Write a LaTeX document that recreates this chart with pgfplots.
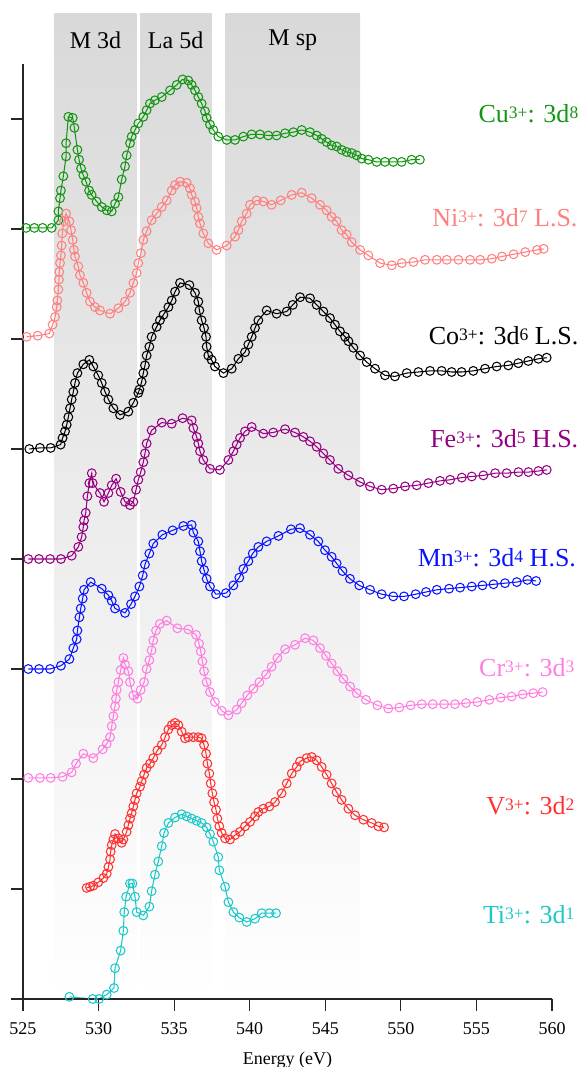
\documentclass[border=0pt]{standalone}
\usepackage{fontspec}
\setmainfont{Liberation Serif}
\usepackage{pgfplots}
\pgfplotsset{compat=1.18}
\definecolor{cuC}{RGB}{20,150,20}
\definecolor{niC}{RGB}{255,128,128}
\definecolor{coC}{RGB}{0,0,0}
\definecolor{feC}{RGB}{150,0,130}
\definecolor{mnC}{RGB}{10,20,255}
\definecolor{crC}{RGB}{255,125,225}
\definecolor{vC}{RGB}{255,50,50}
\definecolor{tiC}{RGB}{30,200,200}
\newcommand{\su}[1]{\raisebox{4pt}{\fontsize{17.5}{20}\selectfont #1}}
\begin{document}
\begin{tikzpicture}
\useasboundingbox (-23pt,-68pt) rectangle (558pt,999pt);
\begin{axis}[at={(0pt,0pt)}, anchor=south west,
  scale only axis, width=529pt, height=935pt,
  xmin=525, xmax=560, ymin=0, ymax=8.5, clip=false, axis on top,
  axis x line*=bottom, axis y line*=left,
  axis line style={line width=1.2pt, black!85, -},
  xtick={525,530,...,560}, ytick={0,1,...,8}, yticklabels={},
  tick align=outside, major tick length=12pt,
  tick style={line width=1.2pt, black!85},
  xticklabel style={font=\fontsize{18}{20}\selectfont, yshift=-8pt},
  /pgf/number format/assume math mode=true,
  /pgf/number format/1000 sep={},
  xlabel={Energy (eV)},
  xlabel style={font=\fontsize{18}{20}\selectfont, at={(axis description cs:0.5,0)}, anchor=center, yshift=-61pt},
  every axis plot/.append style={mark=o, mark size=4.4pt, line width=1.05pt, mark options={solid}}]

\fill[top color=black!15, bottom color=white] (axis cs:527.1,0) rectangle (axis cs:532.5,8.96);
\fill[top color=black!15, bottom color=white] (axis cs:532.75,0) rectangle (axis cs:537.5,8.96);
\fill[top color=black!15, bottom color=white] (axis cs:538.4,0) rectangle (axis cs:547.3,8.96);
\node[font=\fontsize{24}{28}\selectfont, inner sep=0pt] at (axis cs:529.8,8.72) {M 3d};
\node[font=\fontsize{24}{28}\selectfont, inner sep=0pt] at (axis cs:535.1,8.72) {La 5d};
\node[font=\fontsize{24}{28}\selectfont, inner sep=0pt] at (axis cs:542.85,8.72) {M sp};

% Cu
\addplot[color=cuC] coordinates {
(525.20,7.01) (525.75,7.01) (526.30,7.01) (526.90,7.01) (527.34,7.08) (527.34,7.16)
(527.45,7.28) (527.51,7.35) (527.67,7.48) (527.85,7.66) (527.85,7.78) (528.00,8.02)
(528.29,8.01) (528.40,7.92) (528.60,7.72) (528.71,7.63) (528.84,7.55) (528.99,7.49)
(529.17,7.43) (529.37,7.35) (529.54,7.31) (529.87,7.25) (530.21,7.20) (530.54,7.17)
(530.87,7.16) (531.09,7.23) (531.31,7.29) (531.53,7.45) (531.75,7.57) (531.86,7.67)
(532.08,7.78) (532.19,7.84) (532.41,7.90) (532.63,7.96) (532.96,8.02) (533.18,8.08)
(533.40,8.14) (533.73,8.17) (534.18,8.20) (534.73,8.26) (535.17,8.31) (535.56,8.36)
(535.94,8.35) (536.16,8.31) (536.38,8.26) (536.60,8.20) (536.82,8.14) (537.04,8.07)
(537.15,8.01) (537.37,7.95) (537.59,7.90) (537.92,7.84) (538.48,7.81) (539.03,7.81)
(539.58,7.84) (540.13,7.86) (540.68,7.86) (541.23,7.85) (541.78,7.85) (542.34,7.87)
(542.89,7.88) (543.44,7.90) (543.99,7.88) (544.43,7.85) (544.76,7.82) (545.09,7.79)
(545.42,7.76) (545.75,7.75) (546.08,7.72) (546.41,7.70) (546.75,7.69) (547.08,7.67)
(547.41,7.64) (547.85,7.63) (548.40,7.61) (548.95,7.61) (549.50,7.61) (550.05,7.61)
(550.71,7.63) (551.26,7.63)
};
% Ni
\addplot[color=niC] coordinates {
(525.24,6.02) (525.97,6.03) (526.74,6.05) (526.96,6.13) (527.12,6.20) (527.23,6.29)
(527.27,6.35) (527.34,6.45) (527.38,6.54) (527.40,6.61) (527.45,6.69) (527.51,6.76)
(527.56,6.85) (527.60,6.96) (527.71,7.07) (527.85,7.14) (528.07,7.07) (528.18,6.99)
(528.29,6.90) (528.37,6.81) (528.44,6.75) (528.66,6.66) (528.77,6.58) (528.99,6.51)
(529.21,6.42) (529.43,6.34) (529.76,6.29) (530.09,6.26) (530.76,6.23) (531.31,6.28)
(531.75,6.34) (532.08,6.42) (532.30,6.51) (532.52,6.60) (532.63,6.69) (532.80,6.78)
(532.96,6.90) (533.18,6.98) (533.51,7.08) (533.84,7.14) (534.18,7.20) (534.51,7.26)
(534.84,7.35) (535.06,7.40) (535.39,7.43) (535.83,7.42) (536.05,7.37) (536.16,7.31)
(536.38,7.25) (536.49,7.19) (536.60,7.11) (536.71,7.05) (536.93,6.96) (537.26,6.87)
(537.81,6.81) (538.48,6.85) (539.03,6.93) (539.25,6.99) (539.47,7.07) (539.80,7.14)
(540.02,7.22) (540.46,7.26) (540.90,7.25) (541.45,7.22) (542.05,7.26) (542.78,7.31)
(543.44,7.33) (544.10,7.28) (544.65,7.22) (545.09,7.17) (545.42,7.11) (545.75,7.07)
(546.08,6.99) (546.41,6.95) (546.75,6.88) (547.30,6.81) (547.85,6.76) (548.63,6.69)
(549.40,6.67) (550.06,6.69) (550.83,6.70) (551.60,6.72) (552.38,6.72) (553.04,6.72)
(553.81,6.72) (554.58,6.72) (555.25,6.72) (556.02,6.73) (556.69,6.75) (557.46,6.77)
(558.23,6.79) (559.01,6.81) (559.45,6.82)
};
% Co
\addplot[color=coC] coordinates {
(525.42,5.00) (526.12,5.01) (526.83,5.01) (527.49,5.04) (527.62,5.10) (527.78,5.16)
(527.89,5.22) (528.00,5.29) (528.11,5.37) (528.22,5.45) (528.33,5.52) (528.44,5.60)
(528.60,5.69) (528.99,5.77) (529.39,5.81) (529.65,5.75) (529.98,5.67) (530.21,5.60)
(530.43,5.52) (530.65,5.45) (530.98,5.37) (531.42,5.31) (531.97,5.34) (532.30,5.42)
(532.63,5.51) (532.70,5.54) (532.85,5.61) (532.96,5.69) (533.07,5.76) (533.18,5.85)
(533.36,5.93) (533.51,6.02) (533.84,6.11) (534.06,6.17) (534.29,6.22) (534.62,6.29)
(534.84,6.35) (535.06,6.43) (535.39,6.51) (536.01,6.49) (536.38,6.42) (536.60,6.34)
(536.67,6.26) (536.82,6.17) (536.98,6.10) (537.11,6.02) (537.15,5.93) (537.26,5.85)
(537.48,5.81) (537.70,5.75) (538.26,5.69) (538.81,5.73) (539.25,5.82) (539.69,5.88)
(539.91,5.95) (540.13,6.02) (540.35,6.10) (540.57,6.17) (541.12,6.26) (541.78,6.23)
(542.45,6.25) (542.85,6.31) (543.33,6.38) (543.99,6.37) (544.43,6.31) (544.87,6.25)
(545.31,6.19) (545.64,6.13) (545.97,6.07) (546.31,6.02) (546.53,5.98) (546.86,5.92)
(547.30,5.85) (547.74,5.79) (548.29,5.73) (548.95,5.67) (549.61,5.66) (550.39,5.69)
(551.16,5.70) (551.93,5.71) (552.70,5.71) (553.36,5.70) (554.02,5.70) (554.79,5.71)
(555.57,5.73) (556.34,5.75) (557.11,5.76) (557.77,5.78) (558.43,5.80) (559.10,5.82)
(559.65,5.83)
};
% Fe
\addplot[color=feC] coordinates {
(525.35,4.00) (526.06,4.00) (526.79,4.00) (527.51,4.00) (528.22,4.03) (528.66,4.11)
(528.88,4.20) (528.99,4.29) (529.04,4.35) (529.15,4.42) (529.26,4.57) (529.39,4.69)
(529.55,4.78) (529.61,4.69) (530.09,4.60) (530.36,4.52) (530.65,4.60) (530.87,4.67)
(531.16,4.73) (531.46,4.61) (531.75,4.52) (532.08,4.49) (532.30,4.52) (532.48,4.63)
(532.63,4.72) (532.79,4.79) (532.96,4.88) (533.07,4.96) (533.18,5.05) (533.51,5.17)
(534.18,5.24) (534.84,5.23) (535.56,5.28) (536.16,5.26) (536.27,5.19) (536.49,5.11)
(536.60,5.05) (536.71,4.98) (536.93,4.90) (537.37,4.82) (538.03,4.81) (538.59,4.90)
(538.92,4.98) (539.14,5.04) (539.36,5.10) (539.69,5.16) (540.13,5.20) (540.90,5.14)
(541.56,5.15) (542.34,5.18) (543.00,5.15) (543.55,5.11) (543.99,5.07) (544.43,5.02)
(544.87,4.96) (545.31,4.90) (545.86,4.82) (546.53,4.76) (547.30,4.70) (547.96,4.66)
(548.73,4.63) (549.50,4.64) (550.28,4.66) (551.05,4.67) (551.82,4.69) (552.59,4.71)
(553.26,4.72) (554.03,4.74) (554.69,4.75) (555.46,4.76) (556.24,4.78) (557.00,4.78)
(557.78,4.79) (558.44,4.79) (559.10,4.80) (559.65,4.81)
};
% Mn
\addplot[color=mnC] coordinates {
(525.35,3.00) (526.06,3.00) (526.79,3.00) (527.51,3.03) (528.07,3.09) (528.33,3.19)
(528.55,3.27) (528.60,3.35) (528.73,3.47) (528.82,3.55) (528.95,3.64) (529.04,3.72)
(529.48,3.79) (530.21,3.73) (530.65,3.67) (530.87,3.62) (531.09,3.55) (531.75,3.51)
(532.15,3.59) (532.41,3.66) (532.70,3.75) (532.92,3.85) (533.07,3.95) (533.36,4.05)
(533.62,4.14) (534.22,4.22) (534.90,4.26) (535.61,4.30) (536.16,4.31) (536.27,4.24)
(536.60,4.16) (536.71,4.07) (536.82,3.98) (536.98,3.90) (537.15,3.82) (537.37,3.75)
(537.77,3.68) (538.43,3.69) (538.92,3.76) (539.31,3.83) (539.58,3.91) (539.91,3.98)
(540.20,4.05) (540.57,4.11) (541.12,4.16) (541.90,4.21) (542.73,4.27) (543.33,4.28)
(543.99,4.22) (544.54,4.16) (544.98,4.08) (545.42,4.02) (545.75,3.96) (546.14,3.89)
(546.63,3.82) (547.25,3.76) (547.96,3.72) (548.73,3.68) (549.50,3.66) (550.21,3.66)
(550.98,3.68) (551.67,3.70) (552.38,3.72) (553.19,3.73) (553.92,3.74) (554.69,3.75)
(555.40,3.76) (556.13,3.77) (556.89,3.78) (557.67,3.79) (558.37,3.81) (558.95,3.80)
};
% Cr
\addplot[color=crC] coordinates {
(525.35,2.01) (526.12,2.01) (526.83,2.01) (527.62,2.02) (528.22,2.06) (528.51,2.14)
(528.99,2.23) (529.65,2.19) (530.27,2.27) (530.54,2.32) (530.76,2.38) (530.87,2.48)
(530.98,2.57) (531.09,2.66) (531.15,2.73) (531.20,2.81) (531.31,2.88) (531.46,2.99)
(531.64,3.10) (531.75,3.04) (531.97,2.98) (532.08,2.88) (532.30,2.76) (532.57,2.73)
(532.79,2.81) (533.01,2.88) (533.18,3.00) (533.36,3.08) (533.51,3.17) (533.62,3.26)
(533.80,3.35) (534.06,3.41) (534.51,3.44) (535.21,3.37) (535.94,3.36) (536.45,3.31)
(536.65,3.23) (536.76,3.16) (536.87,3.07) (536.98,2.98) (537.15,2.88) (537.37,2.79)
(537.70,2.70) (538.15,2.62) (538.59,2.58) (539.14,2.63) (539.47,2.69) (539.84,2.76)
(540.24,2.82) (540.64,2.88) (541.08,2.95) (541.45,3.02) (541.83,3.10) (542.34,3.18)
(543.00,3.22) (543.66,3.28) (544.21,3.26) (544.65,3.19) (545.05,3.12) (545.42,3.05)
(545.80,2.98) (546.20,2.91) (546.64,2.84) (547.08,2.78) (547.69,2.72) (548.45,2.67)
(549.17,2.64) (549.90,2.65) (550.65,2.67) (551.38,2.68) (552.11,2.68) (552.86,2.68)
(553.58,2.68) (554.31,2.69) (555.06,2.70) (555.85,2.72) (556.60,2.74) (557.33,2.75)
(558.06,2.77) (558.76,2.78) (559.38,2.79)
};
% V
\addplot[color=vC] coordinates {
(529.21,1.01) (529.43,1.02) (529.65,1.03) (529.98,1.06) (530.32,1.10) (530.54,1.14)
(530.65,1.20) (530.76,1.27) (530.80,1.34) (530.87,1.40) (530.98,1.45) (531.09,1.50)
(531.31,1.46) (531.53,1.42) (531.64,1.45) (531.86,1.52) (531.97,1.58) (532.08,1.64)
(532.19,1.69) (532.30,1.75) (532.41,1.81) (532.52,1.87) (532.74,1.93) (532.85,1.98)
(533.01,2.04) (533.18,2.10) (533.40,2.14) (533.62,2.19) (533.89,2.26) (534.18,2.31)
(534.40,2.38) (534.62,2.45) (534.84,2.49) (535.06,2.51) (535.28,2.49) (535.50,2.43)
(535.72,2.37) (535.94,2.38) (536.27,2.38) (536.60,2.38) (536.82,2.37) (536.98,2.31)
(537.11,2.23) (537.20,2.14) (537.33,2.05) (537.42,1.96) (537.53,1.87) (537.64,1.79)
(537.77,1.72) (537.86,1.64) (537.99,1.57) (538.14,1.51) (538.37,1.46) (538.70,1.45)
(539.03,1.49) (539.36,1.52) (539.69,1.57) (540.02,1.61) (540.35,1.66) (540.57,1.70)
(540.90,1.73) (541.30,1.75) (541.67,1.79) (542.11,1.87) (542.45,1.96) (542.78,2.05)
(543.11,2.11) (543.33,2.16) (543.77,2.19) (544.10,2.20) (544.43,2.17) (544.76,2.11)
(545.09,2.04) (545.42,1.96) (545.75,1.88) (546.08,1.81) (546.53,1.73) (546.97,1.67)
(547.52,1.63) (548.07,1.60) (548.51,1.57) (548.89,1.56)
};
% Ti
\addplot[color=tiC] coordinates {
(528.07,0.02) (529.61,0.00) (530.03,0.00) (530.54,0.04) (531.02,0.10) (531.09,0.28)
(531.46,0.44) (531.64,0.62) (531.70,0.79) (531.82,0.93) (532.08,1.05) (532.24,1.05)
(532.41,0.93) (532.52,0.79) (532.96,0.76) (533.36,0.84) (533.51,0.98) (533.73,1.13)
(533.95,1.25) (534.18,1.39) (534.33,1.51) (534.62,1.60) (535.06,1.65) (535.50,1.68)
(535.83,1.66) (536.16,1.64) (536.49,1.62) (536.82,1.60) (537.15,1.56) (537.37,1.50)
(537.59,1.43) (537.92,1.29) (537.99,1.17) (538.37,1.02) (538.59,0.88) (538.92,0.79)
(539.31,0.74) (539.80,0.70) (540.35,0.73) (540.79,0.78) (541.30,0.78) (541.74,0.78)
};

\begin{scope}[every node/.style={anchor=east, inner sep=0pt, font=\fontsize{26}{30}\selectfont}]
\node[text=cuC] at (axis cs:561.75,8.045) {Cu\su{3+}: 3d\su{8}};
\node[text=niC] at (axis cs:561.7,7.10) {Ni\su{3+}: 3d\su{7} L.S.};
\node[text=coC] at (axis cs:561.75,6.03) {Co\su{3+}: 3d\su{6} L.S.};
\node[text=feC] at (axis cs:561.75,5.09) {Fe\su{3+}: 3d\su{5} H.S.};
\node[text=mnC] at (axis cs:561.6,4.01) {Mn\su{3+}: 3d\su{4} H.S.};
\node[text=crC] at (axis cs:561.5,3.01) {Cr\su{3+}: 3d\su{3}};
\node[text=vC] at (axis cs:561.5,1.76) {V\su{3+}: 3d\su{2}};
\node[text=tiC] at (axis cs:561.5,0.77) {Ti\su{3+}: 3d\su{1}};
\end{scope}
\end{axis}
\end{tikzpicture}
\end{document}
